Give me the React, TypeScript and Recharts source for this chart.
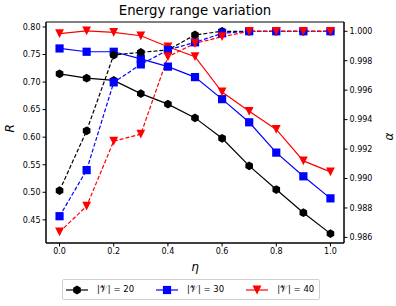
import React from "react";
import { ComposedChart, Line, XAxis, YAxis, ReferenceArea } from "recharts";

// eta values along the x axis
const eta = [0, 0.1, 0.2, 0.3, 0.4, 0.5, 0.6, 0.7, 0.8, 0.9, 1.0];

// R (left axis, solid lines)
const r20 = [0.715, 0.707, 0.703, 0.679, 0.66, 0.635, 0.598, 0.548, 0.505, 0.463, 0.425];
const r30 = [0.761, 0.755, 0.755, 0.742, 0.728, 0.709, 0.669, 0.627, 0.572, 0.529, 0.489];
const r40 = [0.788, 0.793, 0.79, 0.784, 0.764, 0.746, 0.682, 0.647, 0.614, 0.557, 0.537];

// alpha (right axis, dashed lines)
const a20 = [0.98918, 0.99324, 0.99839, 0.99857, 0.99873, 0.99975, 1, 1, 1, 1, 1];
const a30 = [0.98744, 0.99057, 0.99653, 0.99775, 0.99873, 0.99925, 0.99986, 1, 1, 1, 1];
const a40 = [0.98637, 0.98812, 0.99254, 0.99301, 0.99827, 0.99918, 0.99963, 1, 1, 1, 1];

const xTicks = [0, 0.2, 0.4, 0.6, 0.8, 1.0];
const rTicks = [0.45, 0.5, 0.55, 0.6, 0.65, 0.7, 0.75, 0.8];
const aTicks = [0.986, 0.988, 0.99, 0.992, 0.994, 0.996, 0.998, 1.0];

const legendLabels = ["|𝒱| = 20", "|𝒱| = 30", "|𝒱| = 40"];

const rows = eta.map((e, i) => ({
  eta: e,
  r20: r20[i],
  r30: r30[i],
  r40: r40[i],
  a20: a20[i],
  a30: a30[i],
  a40: a40[i],
}));

const FONT = "'DejaVu Sans', sans-serif";

function shape(kind: string, cx: number, cy: number, color: string, key?: any) {
  if (kind === "hex") {
    const r = 4.4;
    const pts = [0, 1, 2, 3, 4, 5]
      .map((k) => {
        const a = (Math.PI / 3) * k - Math.PI / 2;
        return `${cx + r * Math.cos(a)},${cy + r * Math.sin(a)}`;
      })
      .join(" ");
    return <polygon key={key} points={pts} fill={color} />;
  }
  if (kind === "square") {
    const s = 4.1;
    return <rect key={key} x={cx - s} y={cy - s} width={2 * s} height={2 * s} fill={color} />;
  }
  const s = 4.4;
  return (
    <polygon
      key={key}
      points={`${cx - s},${cy - s} ${cx + s},${cy - s} ${cx},${cy + s}`}
      fill={color}
    />
  );
}

const markerDot = (kind: string, color: string) => (props: any) =>
  shape(kind, props.cx, props.cy, color, `${kind}-${props.index}`);

const series = [
  { key: "20", color: "#000000", kind: "hex" },
  { key: "30", color: "#0000ff", kind: "square" },
  { key: "40", color: "#ff0000", kind: "tri" },
];

export default function App() {
  return (
    <div style={{ position: "absolute", left: 0, top: 0, width: 396, height: 306, background: "#fff", fontFamily: FONT }}>
      <div
        style={{
          position: "absolute",
          top: 3,
          left: 46,
          width: 298,
          textAlign: "center",
          fontSize: 13.3,
          lineHeight: "16px",
          color: "#000",
        }}
      >
        Energy range variation
      </div>
      <ComposedChart
        width={396}
        height={306}
        data={rows}
        margin={{ top: 22, right: 0, left: 0, bottom: 33 }}
      >
        <XAxis
          dataKey="eta"
          type="number"
          domain={[-0.05, 1.05]}
          ticks={xTicks}
          tickFormatter={(v: number) => v.toFixed(1)}
          tick={{ fontSize: 8, fill: "#000", fontFamily: FONT }}
          tickSize={3.5}
          tickLine={{ stroke: "#000" }}
          axisLine={{ stroke: "#000" }}
          height={30}
          label={{ value: "η", position: "insideBottom", offset: 2, fontSize: 12, fontStyle: "italic", fill: "#000", fontFamily: FONT }}
        />
        <YAxis
          yAxisId="left"
          type="number"
          domain={[0.408, 0.809]}
          ticks={rTicks}
          allowDataOverflow
          tickFormatter={(v: number) => v.toFixed(2)}
          tick={{ fontSize: 8, fill: "#000", fontFamily: FONT }}
          tickSize={3.5}
          tickLine={{ stroke: "#000" }}
          axisLine={{ stroke: "#000" }}
          width={46}
          label={{ value: "R", angle: -90, position: "insideLeft", offset: 10, fontSize: 12, fontStyle: "italic", fill: "#000", fontFamily: FONT }}
        />
        <YAxis
          yAxisId="right"
          orientation="right"
          type="number"
          domain={[0.98562, 1.00063]}
          ticks={aTicks}
          allowDataOverflow
          tickFormatter={(v: number) => v.toFixed(3)}
          tick={{ fontSize: 8, fill: "#000", fontFamily: FONT }}
          tickSize={3.5}
          tickLine={{ stroke: "#000" }}
          axisLine={{ stroke: "#000" }}
          width={52}
          label={{ value: "α", angle: -90, position: "insideRight", offset: 7, fontSize: 12, fontStyle: "italic", fill: "#000", fontFamily: FONT }}
        />
        <ReferenceArea
          yAxisId="left"
          x1={-0.05}
          x2={1.05}
          y1={0.408}
          y2={0.809}
          fill="none"
          stroke="#000"
          strokeWidth={1}
          fillOpacity={0}
        />
        {series.map((s) => (
          <Line
            key={"r" + s.key}
            yAxisId="left"
            dataKey={"r" + s.key}
            stroke={s.color}
            strokeWidth={1.2}
            dot={markerDot(s.kind, s.color)}
            activeDot={false}
            isAnimationActive={false}
            type="linear"
          />
        ))}
        {series.map((s) => (
          <Line
            key={"a" + s.key}
            yAxisId="right"
            dataKey={"a" + s.key}
            stroke={s.color}
            strokeWidth={1.2}
            strokeDasharray="4 2"
            dot={markerDot(s.kind, s.color)}
            activeDot={false}
            isAnimationActive={false}
            type="linear"
          />
        ))}
      </ComposedChart>
      <div
        style={{
          position: "absolute",
          left: 62,
          top: 279,
          width: 256,
          height: 19,
          border: "1px solid #d0d0d0",
          borderRadius: 2,
          background: "#fff",
          display: "flex",
          alignItems: "center",
          fontSize: 8.5,
          color: "#000",
        }}
      >
        {series.map((s, i) => (
          <div key={s.key} style={{ display: "flex", alignItems: "center", marginLeft: i === 0 ? 2 : 21 }}>
            <svg width={24} height={12} style={{ display: "block" }}>
              <line x1={1} y1={6} x2={23} y2={6} stroke={s.color} strokeWidth={1.2} />
              {shape(s.kind, 12, 6, s.color)}
            </svg>
            <span style={{ marginLeft: 8, whiteSpace: "nowrap" }}>{legendLabels[i]}</span>
          </div>
        ))}
      </div>
    </div>
  );
}
